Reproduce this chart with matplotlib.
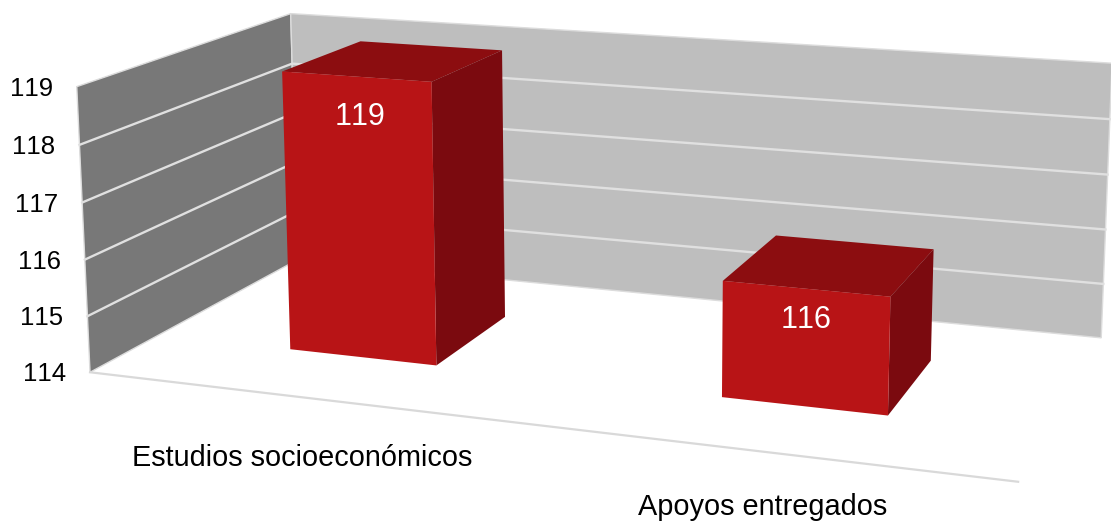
import numpy as np
import matplotlib
matplotlib.use("Agg")
from matplotlib import pyplot as plt
from matplotlib.patches import Polygon

plt.rcParams["font.family"] = ["Liberation Sans", "DejaVu Sans"]
plt.rcParams["text.kerning_factor"] = 6

categories = ["Estudios socioeconómicos", "Apoyos entregados"]
values = [119, 116]
ticks = [114, 115, 116, 117, 118, 119]

# layout
base = ticks[0]
top = ticks[-1]
slot_centers = [0.2525, 0.7515]
bar_width = 0.176
depth_front = 0.30
depth_back = 0.70
label_pos = [(360, 117), (806, 320)]
category_pos = [(302, 458), (763, 507)]

# points seen on screen: (x, value, depth) -> pixel
anchors = [
    ((0, base, 0), (91, 371)), ((1, base, 0), (1018, 483)), ((0, top, 0), (76, 87)),
    ((0, base, 1), (296, 261)), ((1, base, 1), (1102, 337)), ((0, top, 1), (293, 13)),
    ((1, top, 1), (1111, 63)),
    ((0.1645, base, 0.3), (290, 349)), ((0.3405, base, 0.3), (437, 365)),
    ((0.3405, base, 0.7), (505, 317)), ((0.1645, top, 0.3), (281, 72)),
    ((0.3405, top, 0.3), (432.5, 81.5)), ((0.3405, top, 0.7), (503, 51)),
    ((0.1645, top, 0.7), (359, 41)),
]
rows = []
rhs = []
for (x, v, z), (u, w) in anchors:
    rows.append([x, v, z, 1, 0, 0, 0, 0, -u * x, -u * v, -u * z])
    rhs.append(u)
    rows.append([0, 0, 0, 0, x, v, z, 1, -w * x, -w * v, -w * z])
    rhs.append(w)
sol = np.linalg.lstsq(np.array(rows, float), np.array(rhs, float), rcond=None)[0]
P = np.append(sol, 1).reshape(3, 4)


def project(x, v, z):
    p = P @ np.array([x, v, z, 1.0])
    return p[0] / p[2], p[1] / p[2]


fig = plt.figure(figsize=(11.11, 5.24), dpi=100)
ax = fig.add_axes([0, 0, 1, 1])
ax.set_xlim(0, 1111)
ax.set_ylim(524, 0)
ax.axis("off")

# walls
ax.add_patch(Polygon([project(0, base, 0), project(0, top, 0), project(0, top, 1), project(0, base, 1)],
                     fc="#787878", ec="#dcdcdc", lw=1.0, zorder=1))
ax.add_patch(Polygon([project(0, base, 1), project(0, top, 1), project(1, top, 1), project(1, base, 1)],
                     fc="#bebebe", ec="#dcdcdc", lw=1.0, zorder=1))

# gridlines go along both walls
for t in ticks[1:-1]:
    pts = [project(0, t, 0), project(0, t, 1), project(1, t, 1)]
    ax.plot([p[0] for p in pts], [p[1] for p in pts], color="#e0e0e0", lw=1.7, zorder=2)

# floor edge
pts = [project(0, base, 0), project(1, base, 0)]
ax.plot([p[0] for p in pts], [p[1] for p in pts], color="#d9d9d9", lw=1.6, zorder=2)

# bars
for c, val in zip(slot_centers, values):
    x0 = c - bar_width / 2
    x1 = c + bar_width / 2
    ax.add_patch(Polygon([project(x0, val, depth_front), project(x0, val, depth_back),
                          project(x1, val, depth_back), project(x1, val, depth_front)],
                         fc="#8c0d10", ec="none", zorder=3))
    ax.add_patch(Polygon([project(x1, base, depth_front), project(x1, val, depth_front),
                          project(x1, val, depth_back), project(x1, base, depth_back)],
                         fc="#7b0a0f", ec="none", zorder=3))
    ax.add_patch(Polygon([project(x0, base, depth_front), project(x0, val, depth_front),
                          project(x1, val, depth_front), project(x1, base, depth_front)],
                         fc="#b81416", ec="none", zorder=4))

# value labels on the bars
for (lx, ly), val in zip(label_pos, values):
    ax.text(lx, ly, str(val), color="white", fontsize=22, ha="center", va="center", zorder=5)

# tick labels follow the front wall edge
for t in ticks:
    px, py = project(0, t, 0)
    ax.text(px - 24, py + 2, str(t), color="black", fontsize=18.5, ha="right", va="center")

for (lx, ly), name in zip(category_pos, categories):
    ax.text(lx, ly, name, color="black", fontsize=20.8, ha="center", va="center")

fig.savefig("out.png", dpi=100)
